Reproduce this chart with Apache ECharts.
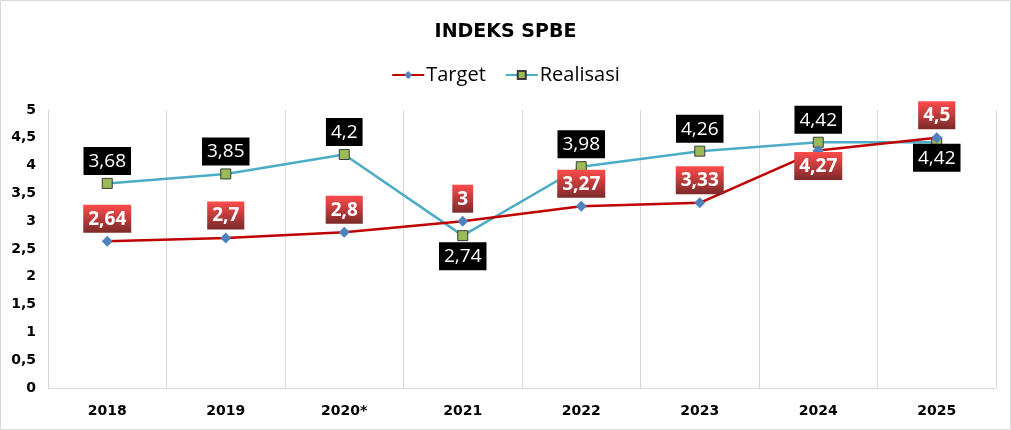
<!DOCTYPE html>
<html>
<head>
<meta charset="utf-8">
<script src="https://cdn.jsdelivr.net/npm/echarts@6/dist/echarts.min.js"></script>
<style>
  html, body { margin: 0; padding: 0; background: #fff; }
  #chart { width: 1011px; height: 430px; }
</style>
</head>
<body>
<div id="chart"></div>
<script>
// data
const years = ['2018', '2019', '2020*', '2021', '2022', '2023', '2024', '2025'];
const target = [2.64, 2.7, 2.8, 3, 3.27, 3.33, 4.27, 4.5];
const realisasi = [3.68, 3.85, 4.2, 2.74, 3.98, 4.26, 4.42, 4.42];
// points whose label sits under the marker
const targetBelow = ['2024'];
const realisasiBelow = ['2021', '2025'];

const fmt = v => String(v).replace('.', ',');
const font = 'Open Sans, Noto Sans, sans-serif';
const boldFont = 'DejaVu Sans, sans-serif';

const redBox = {
  color: '#fff',
  fontWeight: 'bold',
  fontSize: 19,
  fontFamily: font,
  padding: [5, 5, 4, 5],
  backgroundColor: new echarts.graphic.LinearGradient(0, 0, 0, 1, [
    { offset: 0, color: '#ff4b4b' },
    { offset: 1, color: '#7b2a2a' }
  ])
};
const blackBox = {
  color: '#fff',
  fontSize: 19,
  fontFamily: font,
  padding: [5, 5, 4, 5],
  backgroundColor: '#000'
};

let myChart = echarts.init(document.getElementById('chart'));
myChart.setOption({
  animation: false,
  graphic: [{
    type: 'rect',
    shape: { x: 0.5, y: 0.5, width: 1010, height: 429 },
    style: { fill: 'none', stroke: '#d9d9d9', lineWidth: 1 },
    silent: true
  }],
  title: {
    text: 'INDEKS SPBE',
    left: 'center',
    top: 18,
    textStyle: { fontSize: 19, fontWeight: 'bold', fontFamily: boldFont, color: '#000' }
  },
  legend: {
    top: 60,
    left: 'center',
    itemWidth: 32,
    itemHeight: 10,
    itemGap: 19,
    textStyle: { fontSize: 20, fontFamily: font, color: '#000', padding: [0, 0, 0, -3] },
    data: ['Target', 'Realisasi']
  },
  grid: { left: 48, right: 15, top: 110, bottom: 42 },
  xAxis: {
    type: 'category',
    data: years,
    axisLine: { lineStyle: { color: '#d9d9d9' } },
    axisTick: { show: false },
    splitLine: { show: true, lineStyle: { color: '#d9d9d9' } },
    axisLabel: { color: '#000', fontWeight: 'bold', fontSize: 14, fontFamily: boldFont, margin: 16 }
  },
  yAxis: {
    type: 'value',
    min: 0,
    max: 5,
    interval: 0.5,
    axisLine: { show: true, lineStyle: { color: '#d9d9d9' } },
    axisTick: { show: false },
    splitLine: { show: false },
    axisLabel: {
      color: '#000', fontWeight: 'bold', fontSize: 14, fontFamily: boldFont, margin: 12,
      formatter: fmt
    }
  },
  series: [
    {
      name: 'Target',
      type: 'line',
      data: target.map((v, i) => ({
        value: v,
        label: targetBelow.includes(years[i])
          ? { position: 'bottom', distance: -4 }
          : { position: 'top' }
      })),
      symbol: 'diamond',
      symbolSize: 11,
      lineStyle: { color: '#c00000', width: 2.5 },
      itemStyle: { color: '#4f81bd', borderWidth: 0 },
      label: Object.assign({ show: true, distance: 3, formatter: p => fmt(p.value) }, redBox),
      z: 3
    },
    {
      name: 'Realisasi',
      type: 'line',
      data: realisasi.map((v, i) => ({
        value: v,
        label: realisasiBelow.includes(years[i])
          ? { position: 'bottom', distance: years[i] === '2025' ? -4 : 1 }
          : { position: 'top' }
      })),
      symbol: 'rect',
      symbolSize: 10,
      lineStyle: { color: '#4bacc6', width: 2.5 },
      itemStyle: { color: '#9bbb59', borderColor: '#3a3a3a', borderWidth: 1 },
      label: Object.assign({ show: true, distance: 3, formatter: p => fmt(p.value) }, blackBox),
      z: 2
    }
  ]
});
</script>
</body>
</html>
